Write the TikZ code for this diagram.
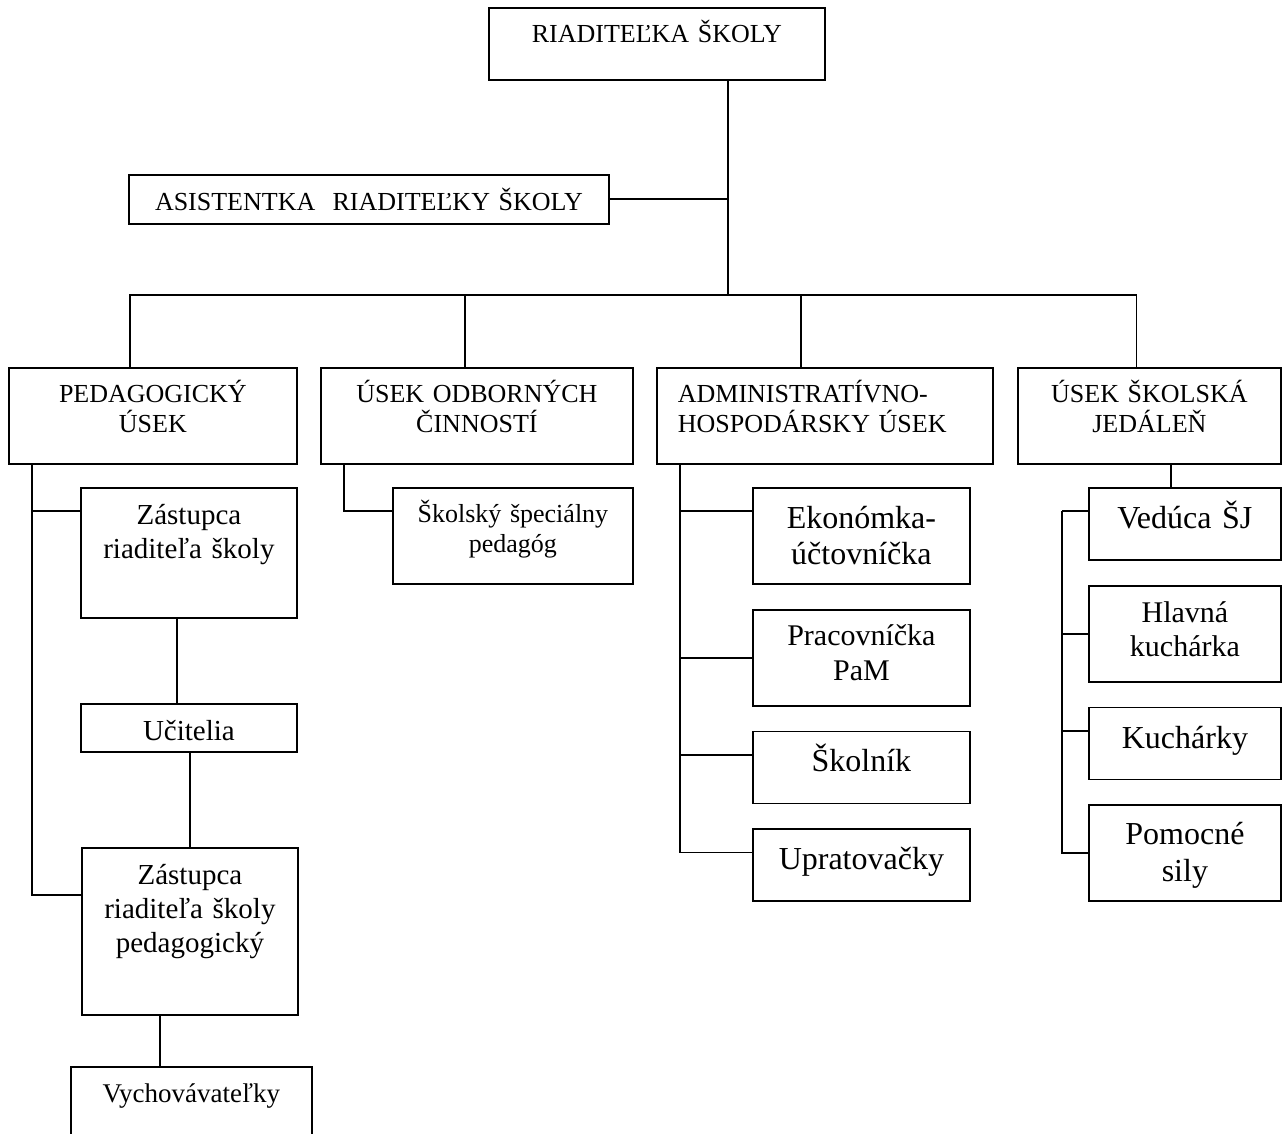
\documentclass[tikz,border=0pt]{standalone}
\usepackage{fontspec}
\setmainfont{Liberation Serif}
\usetikzlibrary{positioning}

\tikzset{
	unit/.style={draw, line width=1.8pt, inner sep=0pt, anchor=north west, align=center},
	caps/.style={font=\fontsize{26}{30}\selectfont},
	mid/.style={font=\fontsize{29}{34}\selectfont},
	big/.style={font=\fontsize{32}{36}\selectfont},
	link/.style={line width=1.8pt},
}

\begin{document}
\begin{tikzpicture}[x=1pt,y=-1pt]

	\useasboundingbox (0,0) rectangle (1282,1134);

	% vedenie
	\node(dir) [unit,caps,text width=336pt,text height=35pt,text depth=37pt] at (488,7) {RIADITEĽKA ŠKOLY};
	\node(asist) [unit,caps,text width=480pt,text height=36pt,text depth=13pt] at (128,174) {ASISTENTKA~~RIADITEĽKY ŠKOLY};

	% useky
	\node(ped) [unit,caps,text width=288pt,text height=35pt,text depth=61pt] at (8,367) {PEDAGOGICKÝ\\ÚSEK};
	\node(odb) [unit,caps,text width=312pt,text height=35pt,text depth=61pt] at (320,367) {ÚSEK ODBORNÝCH\\ČINNOSTÍ};
	\node(adm) [unit,caps,align=left,inner xsep=21pt,text width=294pt,text height=35pt,text depth=61pt] at (656,367) {ADMINISTRATÍVNO-\\HOSPODÁRSKY ÚSEK};
	\node(jed) [unit,caps,text width=263pt,text height=35pt,text depth=61pt] at (1017,367) {ÚSEK ŠKOLSKÁ\\JEDÁLEŇ};

	% pedagogicky usek
	\node(zast1) [unit,mid,text width=216pt,text height=37pt,text depth=93pt] at (80,487) {Zástupca\\riaditeľa školy};
	\node(ucit) [unit,mid,text width=216pt,text height=37pt,text depth=11pt] at (80,703) {Učitelia};
	\node(zast2) [unit,mid,text width=216pt,text height=37pt,text depth=130pt] at (81,847) {Zástupca\\riaditeľa školy\\pedagogický};
	\node(vych) [unit,font=\fontsize{27}{31}\selectfont,text width=241pt,text height=36pt,text depth=100pt] at (70,1066) {Vychovávateľky};

	% odborne cinnosti
	\node(skol) [unit,caps,text width=240pt,text height=35pt,text depth=61pt] at (392,487) {Školský špeciálny\\pedagóg};

	% administrativno-hospodarsky usek
	\node(ekon) [unit,big,text width=217pt,text height=41pt,text depth=55pt] at (752,487) {Ekonómka-\\účtovníčka};
	\node(prac) [unit,font=\fontsize{30}{35}\selectfont,anchor=north,text width=217pt,text height=36pt,text depth=60pt,below=24pt of ekon] {Pracovníčka\\PaM};
	\node(sklnk) [unit,big,anchor=north,text width=217pt,text height=40pt,text depth=32pt,below=24pt of prac] {Školník};
	\node(uprat) [unit,big,anchor=north,text width=217pt,text height=40pt,text depth=32pt,below=24pt of sklnk] {Upratovačky};

	% skolska jedalen
	\node(ved) [unit,big,text width=192pt,text height=41pt,text depth=31pt] at (1088,487) {Vedúca ŠJ};
	\node(hlav) [unit,font=\fontsize{30}{34}\selectfont,anchor=north,text width=192pt,text height=37pt,text depth=59pt,below=24pt of ved] {Hlavná\\kuchárka};
	\node(kuch) [unit,big,anchor=north,text width=192pt,text height=41pt,text depth=31pt,below=24pt of hlav] {Kuchárky};
	\node(pomoc) [unit,font=\fontsize{32}{37}\selectfont,anchor=north,text width=192pt,text height=39pt,text depth=57pt,below=24pt of kuch] {Pomocné\\sily};

	% spojnice
	\coordinate (bus) at (728,295);
	\coordinate (dped) at ([xshift=-23pt]ped.north);
	\coordinate (dodb) at ([xshift=-12pt]odb.north);
	\coordinate (dadm) at ([xshift=-24pt]adm.north);
	\coordinate (djed) at ([xshift=-13pt]jed.north);

	\draw[link] (dir.south -| bus) -- (bus);
	\draw[link] (asist.east) -- (asist.east -| bus);
	\draw[link] (dped) -- (dped |- bus) -- (djed |- bus) -- (djed);
	\draw[link] (dodb) -- (dodb |- bus);
	\draw[link] (dadm) -- (dadm |- bus);

	\coordinate (pedx) at ([xshift=24pt]ped.south west);
	\coordinate (z1in) at ([yshift=-24pt]zast1.north west);
	\coordinate (z2in) at ([yshift=-48pt]zast2.north west);
	\draw[link] (pedx) |- (z2in);
	\draw[link] (pedx |- z1in) -- (z1in);
	\draw[link] ([xshift=-12pt]zast1.south) -- ([xshift=-12pt]ucit.north);
	\draw[link] (ucit.south -| zast2.north) -- (zast2.north);
	\coordinate (vychin) at ([xshift=-30pt]zast2.south);
	\draw[link] (vychin) -- (vychin |- vych.north);

	\draw[link] ([xshift=24pt]odb.south west) |- ([yshift=-24pt]skol.north west);

	\coordinate (admx) at ([xshift=24pt]adm.south west);
	\coordinate (ekin) at ([yshift=-24pt]ekon.north west);
	\coordinate (skin) at ([yshift=-24pt]sklnk.north west);
	\coordinate (upin) at ([yshift=-24pt]uprat.north west);
	\draw[link] (admx) |- (upin);
	\draw[link] (admx |- ekin) -- (ekin);
	\draw[link] (admx |- prac.west) -- (prac.west);
	\draw[link] (admx |- skin) -- (skin);

	\coordinate (vedtop) at ([xshift=-14pt]ved.north);
	\draw[link] (vedtop) -- (vedtop |- jed.south);
	\coordinate (jedx) at ([xshift=-26pt,yshift=-24pt]ved.north west);
	\coordinate (kuin) at ([yshift=-24pt]kuch.north west);
	\draw[link] (jedx) -- (jedx -| ved.west);
	\draw[link] (jedx) |- (pomoc.west);
	\draw[link] (jedx |- hlav.west) -- (hlav.west);
	\draw[link] (jedx |- kuin) -- (kuin);

\end{tikzpicture}
\end{document}
